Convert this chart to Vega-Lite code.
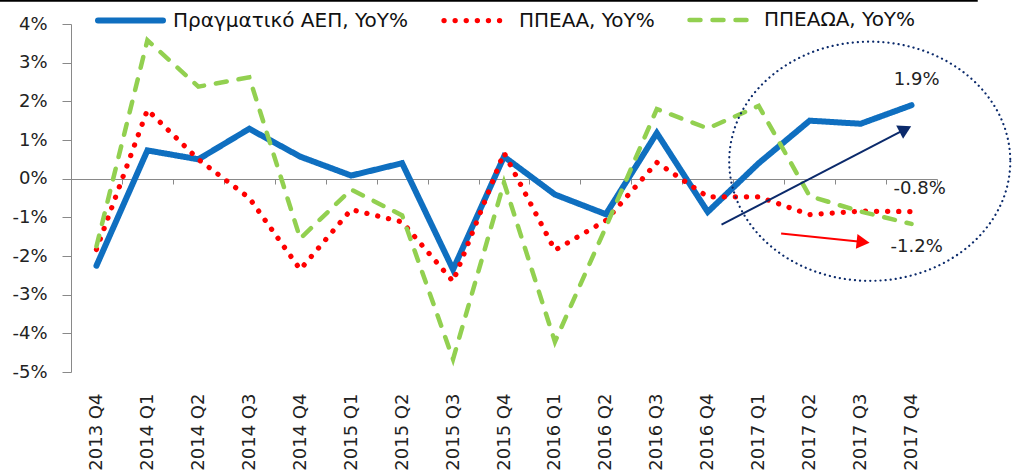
{
  "$schema": "https://vega.github.io/schema/vega-lite/v6.json",
  "autosize": "none",
  "width": 866,
  "height": 348,
  "padding": {"left": 71, "top": 24, "right": 79, "bottom": 99},
  "background": "white",
  "config": {
    "view": {"stroke": null},
    "font": "DejaVu Sans",
    "axisY": {
      "grid": false,
      "domainColor": "#898989",
      "tickColor": "#898989",
      "tickSize": 9,
      "labelPadding": 15,
      "labelFontSize": 18,
      "labelColor": "#222222",
      "labelFont": "DejaVu Sans",
      "values": [-5, -4, -3, -2, -1, 0, 1, 2, 3, 4],
      "labelExpr": "datum.value + '%'",
      "title": null
    }
  },
  "datasets": {
    "series": [
      {"i": 0, "q": "2013 Q4", "s": "Πραγματικό ΑΕΠ, YoY%", "v": -2.25},
      {"i": 1, "q": "2014 Q1", "s": "Πραγματικό ΑΕΠ, YoY%", "v": 0.73},
      {"i": 2, "q": "2014 Q2", "s": "Πραγματικό ΑΕΠ, YoY%", "v": 0.5},
      {"i": 3, "q": "2014 Q3", "s": "Πραγματικό ΑΕΠ, YoY%", "v": 1.29},
      {"i": 4, "q": "2014 Q4", "s": "Πραγματικό ΑΕΠ, YoY%", "v": 0.57},
      {"i": 5, "q": "2015 Q1", "s": "Πραγματικό ΑΕΠ, YoY%", "v": 0.08},
      {"i": 6, "q": "2015 Q2", "s": "Πραγματικό ΑΕΠ, YoY%", "v": 0.4},
      {"i": 7, "q": "2015 Q3", "s": "Πραγματικό ΑΕΠ, YoY%", "v": -2.35},
      {"i": 8, "q": "2015 Q4", "s": "Πραγματικό ΑΕΠ, YoY%", "v": 0.57},
      {"i": 9, "q": "2016 Q1", "s": "Πραγματικό ΑΕΠ, YoY%", "v": -0.41},
      {"i": 10, "q": "2016 Q2", "s": "Πραγματικό ΑΕΠ, YoY%", "v": -0.92},
      {"i": 11, "q": "2016 Q3", "s": "Πραγματικό ΑΕΠ, YoY%", "v": 1.18},
      {"i": 12, "q": "2016 Q4", "s": "Πραγματικό ΑΕΠ, YoY%", "v": -0.86},
      {"i": 13, "q": "2017 Q1", "s": "Πραγματικό ΑΕΠ, YoY%", "v": 0.4},
      {"i": 14, "q": "2017 Q2", "s": "Πραγματικό ΑΕΠ, YoY%", "v": 1.5},
      {"i": 15, "q": "2017 Q3", "s": "Πραγματικό ΑΕΠ, YoY%", "v": 1.42},
      {"i": 16, "q": "2017 Q4", "s": "Πραγματικό ΑΕΠ, YoY%", "v": 1.9},
      {"i": 0, "q": "2013 Q4", "s": "ΠΠΕΑΑ, YoY%", "v": -1.83},
      {"i": 1, "q": "2014 Q1", "s": "ΠΠΕΑΑ, YoY%", "v": 1.78},
      {"i": 2, "q": "2014 Q2", "s": "ΠΠΕΑΑ, YoY%", "v": 0.5},
      {"i": 3, "q": "2014 Q3", "s": "ΠΠΕΑΑ, YoY%", "v": -0.5},
      {"i": 4, "q": "2014 Q4", "s": "ΠΠΕΑΑ, YoY%", "v": -2.35},
      {"i": 5, "q": "2015 Q1", "s": "ΠΠΕΑΑ, YoY%", "v": -0.8},
      {"i": 6, "q": "2015 Q2", "s": "ΠΠΕΑΑ, YoY%", "v": -1.12},
      {"i": 7, "q": "2015 Q3", "s": "ΠΠΕΑΑ, YoY%", "v": -2.66},
      {"i": 8, "q": "2015 Q4", "s": "ΠΠΕΑΑ, YoY%", "v": 0.67},
      {"i": 9, "q": "2016 Q1", "s": "ΠΠΕΑΑ, YoY%", "v": -1.85},
      {"i": 10, "q": "2016 Q2", "s": "ΠΠΕΑΑ, YoY%", "v": -1.08},
      {"i": 11, "q": "2016 Q3", "s": "ΠΠΕΑΑ, YoY%", "v": 0.42},
      {"i": 12, "q": "2016 Q4", "s": "ΠΠΕΑΑ, YoY%", "v": -0.47},
      {"i": 13, "q": "2017 Q1", "s": "ΠΠΕΑΑ, YoY%", "v": -0.47},
      {"i": 14, "q": "2017 Q2", "s": "ΠΠΕΑΑ, YoY%", "v": -0.93},
      {"i": 15, "q": "2017 Q3", "s": "ΠΠΕΑΑ, YoY%", "v": -0.84},
      {"i": 16, "q": "2017 Q4", "s": "ΠΠΕΑΑ, YoY%", "v": -0.85},
      {"i": 0, "q": "2013 Q4", "s": "ΠΠΕΑΩΑ, YoY%", "v": -1.75},
      {"i": 1, "q": "2014 Q1", "s": "ΠΠΕΑΩΑ, YoY%", "v": 3.58},
      {"i": 2, "q": "2014 Q2", "s": "ΠΠΕΑΩΑ, YoY%", "v": 2.38},
      {"i": 3, "q": "2014 Q3", "s": "ΠΠΕΑΩΑ, YoY%", "v": 2.62},
      {"i": 4, "q": "2014 Q4", "s": "ΠΠΕΑΩΑ, YoY%", "v": -1.55},
      {"i": 5, "q": "2015 Q1", "s": "ΠΠΕΑΩΑ, YoY%", "v": -0.28},
      {"i": 6, "q": "2015 Q2", "s": "ΠΠΕΑΩΑ, YoY%", "v": -0.95},
      {"i": 7, "q": "2015 Q3", "s": "ΠΠΕΑΩΑ, YoY%", "v": -4.67},
      {"i": 8, "q": "2015 Q4", "s": "ΠΠΕΑΩΑ, YoY%", "v": -0.1},
      {"i": 9, "q": "2016 Q1", "s": "ΠΠΕΑΩΑ, YoY%", "v": -4.22},
      {"i": 10, "q": "2016 Q2", "s": "ΠΠΕΑΩΑ, YoY%", "v": -1.25},
      {"i": 11, "q": "2016 Q3", "s": "ΠΠΕΑΩΑ, YoY%", "v": 1.8},
      {"i": 12, "q": "2016 Q4", "s": "ΠΠΕΑΩΑ, YoY%", "v": 1.3},
      {"i": 13, "q": "2017 Q1", "s": "ΠΠΕΑΩΑ, YoY%", "v": 1.88},
      {"i": 14, "q": "2017 Q2", "s": "ΠΠΕΑΩΑ, YoY%", "v": -0.45},
      {"i": 15, "q": "2017 Q3", "s": "ΠΠΕΑΩΑ, YoY%", "v": -0.85},
      {"i": 16, "q": "2017 Q4", "s": "ΠΠΕΑΩΑ, YoY%", "v": -1.17}
    ],
    "arrows": [
      {"a": "up", "i": 12.27, "v": -1.19, "i2": 15.88, "v2": 1.28},
      {"a": "down", "i": 13.44, "v": -1.42, "i2": 15.05, "v2": -1.64}
    ],
    "labels": [
      {"t": "1.9%", "i": 16.1, "v": 2.55},
      {"t": "-0.8%", "i": 16.16, "v": -0.27},
      {"t": "-1.2%", "i": 16.1, "v": -1.78}
    ],
    "ellipse": [{"i": 15.18, "v": 0.45}],
    "topline": [{"i": -1.9, "i2": 17.3, "v": 4.6}]
  },
  "resolve": {"axis": {"x": "independent"}},
  "layer": [
    {
      "data": {"name": "topline"},
      "mark": {"type": "rule", "color": "#000000", "strokeWidth": 2},
      "encoding": {
        "x": {"field": "i", "type": "quantitative", "scale": {"domain": [-0.5, 16.5], "nice": false, "zero": false}, "axis": null},
        "x2": {"field": "i2"},
        "y": {"field": "v", "type": "quantitative", "scale": {"domain": [-5, 4], "nice": false}, "title": null}
      }
    },
    {
      "data": {"name": "series"},
      "mark": {"type": "line", "strokeCap": "round"},
      "encoding": {
        "x": {
          "field": "i", "type": "quantitative",
          "scale": {"domain": [-0.5, 16.5], "nice": false, "zero": false},
          "axis": {
            "orient": "bottom",
            "values": [0, 1, 2, 3, 4, 5, 6, 7, 8, 9, 10, 11, 12, 13, 14, 15, 16],
            "labelExpr": "['2013 Q4','2014 Q1','2014 Q2','2014 Q3','2014 Q4','2015 Q1','2015 Q2','2015 Q3','2015 Q4','2016 Q1','2016 Q2','2016 Q3','2016 Q4','2017 Q1','2017 Q2','2017 Q3','2017 Q4'][datum.value]",
            "labelAngle": 270,
            "labelAlign": "right",
            "labelBaseline": "middle",
            "labelFontSize": 18,
            "labelFont": "DejaVu Sans",
            "labelColor": "#222222",
            "labelPadding": 21,
            "domain": false,
            "ticks": false,
            "tickSize": 0,
            "grid": false,
            "title": null,
            "labelOverlap": false,
            "labelFlush": false,
            "labelBound": false
          }
        },
        "y": {"field": "v", "type": "quantitative", "scale": {"domain": [-5, 4], "nice": false}, "title": null},
        "color": {
          "field": "s", "type": "nominal", "title": null,
          "scale": {"domain": ["Πραγματικό ΑΕΠ, YoY%", "ΠΠΕΑΑ, YoY%", "ΠΠΕΑΩΑ, YoY%"], "range": ["#0F6FC0", "#FF0000", "#92D050"]},
          "legend": {
            "orient": "none",
            "legendX": 24,
            "legendY": -39,
            "direction": "horizontal",
            "gridAlign": "none",
            "symbolType": "stroke",
            "symbolSize": 4225,
            "labelFontSize": 20,
            "labelFont": "DejaVu Sans",
            "labelColor": "#111111",
            "labelOffset": 7,
            "columnPadding": 25,
            "padding": 0,
            "labelLimit": 400,
            "title": null,
            "encoding": {"symbols": {"strokeCap": {"value": "round"}}}
          }
        },
        "strokeDash": {
          "field": "s", "type": "nominal", "title": null,
          "scale": {"domain": ["Πραγματικό ΑΕΠ, YoY%", "ΠΠΕΑΑ, YoY%", "ΠΠΕΑΩΑ, YoY%"], "range": [[1, 0], [0.1, 11], [11, 12]]}
        },
        "strokeWidth": {
          "field": "s", "type": "nominal", "title": null,
          "scale": {"domain": ["Πραγματικό ΑΕΠ, YoY%", "ΠΠΕΑΑ, YoY%", "ΠΠΕΑΩΑ, YoY%"], "range": [6, 4.5, 5]}
        }
      }
    },
    {
      "data": {"name": "ellipse"},
      "mark": {
        "type": "point",
        "shape": "M 1 0 C 1 0.47 0.552 0.851 0 0.851 C -0.552 0.851 -1 0.47 -1 0 C -1 -0.47 -0.552 -0.851 0 -0.851 C 0.552 -0.851 1 -0.47 1 0 Z",
        "filled": false,
        "stroke": "#0B2A6B",
        "strokeWidth": 2.2,
        "strokeDash": [0.1, 5],
        "strokeCap": "round",
        "size": 79000,
        "opacity": 1
      },
      "encoding": {
        "x": {"field": "i", "type": "quantitative", "scale": {"domain": [-0.5, 16.5], "nice": false, "zero": false}, "axis": null},
        "y": {"field": "v", "type": "quantitative", "scale": {"domain": [-5, 4], "nice": false}, "title": null}
      }
    },
    {
      "data": {"name": "arrows"},
      "transform": [{"filter": "datum.a == 'up'"}],
      "layer": [
        {
          "mark": {"type": "rule", "color": "#0B2A6B", "strokeWidth": 2},
          "encoding": {
            "x": {"field": "i", "type": "quantitative", "scale": {"domain": [-0.5, 16.5], "nice": false, "zero": false}, "axis": null},
            "x2": {"field": "i2"},
            "y": {"field": "v", "type": "quantitative", "scale": {"domain": [-5, 4], "nice": false}, "title": null},
            "y2": {"field": "v2"}
          }
        },
        {
          "mark": {"type": "point", "shape": "triangle-right", "filled": true, "color": "#0B2A6B", "opacity": 1, "size": 225, "angle": 332.7},
          "encoding": {
            "x": {"field": "i2", "type": "quantitative", "scale": {"domain": [-0.5, 16.5], "nice": false, "zero": false}, "axis": null},
            "y": {"field": "v2", "type": "quantitative", "scale": {"domain": [-5, 4], "nice": false}, "title": null}
          }
        }
      ]
    },
    {
      "data": {"name": "arrows"},
      "transform": [{"filter": "datum.a == 'down'"}],
      "layer": [
        {
          "mark": {"type": "rule", "color": "#FF0000", "strokeWidth": 2},
          "encoding": {
            "x": {"field": "i", "type": "quantitative", "scale": {"domain": [-0.5, 16.5], "nice": false, "zero": false}, "axis": null},
            "x2": {"field": "i2"},
            "y": {"field": "v", "type": "quantitative", "scale": {"domain": [-5, 4], "nice": false}, "title": null},
            "y2": {"field": "v2"}
          }
        },
        {
          "mark": {"type": "point", "shape": "triangle-right", "filled": true, "color": "#FF0000", "opacity": 1, "size": 225, "angle": 6},
          "encoding": {
            "x": {"field": "i2", "type": "quantitative", "scale": {"domain": [-0.5, 16.5], "nice": false, "zero": false}, "axis": null},
            "y": {"field": "v2", "type": "quantitative", "scale": {"domain": [-5, 4], "nice": false}, "title": null}
          }
        }
      ]
    },
    {
      "data": {"name": "labels"},
      "mark": {"type": "text", "fontSize": 18, "font": "DejaVu Sans", "color": "#222222", "align": "center", "baseline": "middle"},
      "encoding": {
        "x": {
          "field": "i", "type": "quantitative",
          "scale": {"domain": [-0.5, 16.5], "nice": false, "zero": false},
          "axis": {
            "orient": "bottom",
            "offset": -193,
            "values": [-0.5, 0.5, 1.5, 2.5, 3.5, 4.5, 5.5, 6.5, 7.5, 8.5, 9.5, 10.5, 11.5, 12.5, 13.5, 14.5, 15.5, 16.5],
            "labels": false,
            "domain": true,
            "domainColor": "#898989",
            "domainWidth": 1,
            "ticks": true,
            "tickColor": "#898989",
            "tickSize": 5,
            "grid": false,
            "title": null
          }
        },
        "y": {"field": "v", "type": "quantitative", "scale": {"domain": [-5, 4], "nice": false}, "title": null},
        "text": {"field": "t", "type": "nominal"}
      }
    }
  ]
}
